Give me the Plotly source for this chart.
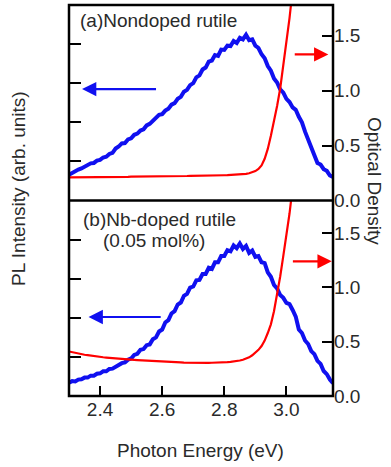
import plotly.graph_objects as go

# Photon energy grid (eV)
energy = [2.30, 2.31, 2.32, 2.33, 2.34, 2.35, 2.36, 2.37, 2.38, 2.39,
          2.40, 2.41, 2.42, 2.43, 2.44, 2.45, 2.46, 2.47, 2.48, 2.49,
          2.50, 2.51, 2.52, 2.53, 2.54, 2.55, 2.56, 2.57, 2.58, 2.59,
          2.60, 2.61, 2.62, 2.63, 2.64, 2.65, 2.66, 2.67, 2.68, 2.69,
          2.70, 2.71, 2.72, 2.73, 2.74, 2.75, 2.76, 2.77, 2.78, 2.79,
          2.80, 2.81, 2.82, 2.83, 2.84, 2.85, 2.86, 2.87, 2.88, 2.89,
          2.90, 2.91, 2.92, 2.93, 2.94, 2.95, 2.96, 2.97, 2.98, 2.99,
          3.00, 3.01, 3.02, 3.03, 3.04, 3.05, 3.06, 3.07, 3.08, 3.09,
          3.10, 3.11, 3.12, 3.13, 3.14, 3.15]

# (a) Nondoped rutile: PL intensity (arb. units)
pl_nondoped = [0.66, 0.71, 0.73, 0.79, 0.82, 0.87, 0.89, 0.95, 0.96, 1.02,
               1.04, 1.10, 1.12, 1.19, 1.22, 1.33, 1.38, 1.46, 1.47, 1.56,
               1.59, 1.68, 1.71, 1.79, 1.82, 1.92, 1.96, 2.04, 2.09, 2.19,
               2.21, 2.30, 2.35, 2.45, 2.49, 2.60, 2.65, 2.78, 2.83, 2.95,
               3.00, 3.15, 3.20, 3.35, 3.40, 3.55, 3.58, 3.72, 3.70, 3.86,
               3.85, 3.96, 3.95, 4.08, 4.03, 4.16, 4.12, 4.24, 4.10, 4.12,
               3.96, 3.90, 3.74, 3.64, 3.44, 3.32, 3.12, 3.02, 2.84, 2.76,
               2.60, 2.52, 2.38, 2.32, 2.14, 2.00, 1.76, 1.58, 1.34, 1.16,
               0.96, 0.92, 0.80, 0.76, 0.64, 0.60]

# (a) Nondoped rutile: optical density
od_nondoped = [0.210, 0.210, 0.210, 0.211, 0.211, 0.212, 0.212, 0.212, 0.213, 0.213,
               0.213, 0.214, 0.214, 0.214, 0.215, 0.215, 0.215, 0.216, 0.216, 0.216,
               0.217, 0.217, 0.217, 0.218, 0.218, 0.218, 0.219, 0.219, 0.219, 0.220,
               0.220, 0.220, 0.221, 0.221, 0.222, 0.222, 0.222, 0.223, 0.223, 0.224,
               0.224, 0.225, 0.225, 0.226, 0.226, 0.227, 0.227, 0.228, 0.229, 0.229,
               0.230, 0.231, 0.232, 0.233, 0.235, 0.237, 0.240, 0.243, 0.248, 0.256,
               0.268, 0.287, 0.320, 0.380, 0.470, 0.590, 0.720, 0.860, 1.020, 1.220,
               1.420, 1.660, 1.920, 2.200, 2.500, 2.800, 3.100, 3.400, 3.700, 4.000,
               4.300, 4.600, 4.900, 5.200, 5.500, 5.800]

# (b) Nb-doped rutile (0.05 mol%): PL intensity (arb. units)
pl_nbdoped = [0.34, 0.38, 0.37, 0.42, 0.43, 0.47, 0.47, 0.52, 0.52, 0.57,
              0.58, 0.63, 0.63, 0.69, 0.70, 0.75, 0.77, 0.84, 0.86, 0.93,
              0.96, 1.05, 1.08, 1.18, 1.20, 1.30, 1.32, 1.45, 1.50, 1.65,
              1.70, 1.88, 1.94, 2.11, 2.17, 2.34, 2.39, 2.56, 2.61, 2.77,
              2.80, 2.96, 2.97, 3.12, 3.12, 3.28, 3.25, 3.42, 3.42, 3.58,
              3.58, 3.73, 3.70, 3.85, 3.78, 3.90, 3.76, 3.84, 3.66, 3.72,
              3.56, 3.58, 3.42, 3.40, 3.16, 3.05, 2.84, 2.75, 2.58, 2.51,
              2.38, 2.35, 2.20, 2.03, 1.70, 1.61, 1.42, 1.33, 1.15, 1.07,
              0.90, 0.82, 0.64, 0.56, 0.42, 0.33]

# (b) Nb-doped rutile: optical density
od_nbdoped = [0.410, 0.403, 0.397, 0.391, 0.386, 0.380, 0.376, 0.371, 0.367, 0.363,
              0.360, 0.357, 0.354, 0.351, 0.348, 0.345, 0.343, 0.341, 0.339, 0.337,
              0.335, 0.333, 0.331, 0.329, 0.327, 0.325, 0.323, 0.321, 0.319, 0.317,
              0.315, 0.314, 0.313, 0.312, 0.311, 0.310, 0.309, 0.308, 0.307, 0.306,
              0.305, 0.305, 0.305, 0.305, 0.305, 0.305, 0.306, 0.306, 0.307, 0.308,
              0.310, 0.312, 0.314, 0.317, 0.321, 0.327, 0.334, 0.343, 0.356, 0.375,
              0.398, 0.425, 0.460, 0.510, 0.580, 0.660, 0.780, 0.930, 1.100, 1.290,
              1.470, 1.680, 1.920, 2.200, 2.500, 2.800, 3.100, 3.400, 3.700, 4.000,
              4.300, 4.600, 4.900, 5.200, 5.500, 5.800]

x_ticks = [2.4, 2.6, 2.8, 3.0]
x_ticklabels = ["2.4", "2.6", "2.8", "3.0"]
od_ticks = [0.0, 0.5, 1.0, 1.5]
od_ticklabels = ["0.0", "0.5", "1.0", "1.5"]
pl_ticks = [1, 2, 3, 4]

BLUE = "#1010f0"
RED = "#ff0000"
FONT = "Liberation Sans, Arial, Helvetica, sans-serif"
TXT = "#2a2a2a"
FS = 19

fig = go.Figure()
fig.add_trace(go.Scatter(x=energy, y=od_nondoped, xaxis="x", yaxis="y2", mode="lines",
                         line=dict(color=RED, width=2.2), showlegend=False))
fig.add_trace(go.Scatter(x=energy, y=pl_nondoped, xaxis="x", yaxis="y", mode="lines",
                         line=dict(color=BLUE, width=4), showlegend=False))
fig.add_trace(go.Scatter(x=energy, y=od_nbdoped, xaxis="x", yaxis="y4", mode="lines",
                         line=dict(color=RED, width=2.2), showlegend=False))
fig.add_trace(go.Scatter(x=energy, y=pl_nbdoped, xaxis="x", yaxis="y3", mode="lines",
                         line=dict(color=BLUE, width=4), showlegend=False))

tickfont = dict(family=FONT, size=FS, color=TXT)
left_common = dict(range=[0, 5], tickvals=pl_ticks, showticklabels=False, ticks="inside",
                   ticklen=12, tickwidth=2, tickcolor="black", showgrid=False,
                   zeroline=False, showline=False, anchor="x")
right_common = dict(tickvals=od_ticks, ticktext=od_ticklabels, ticks="inside", ticklen=11,
                    tickwidth=2, tickcolor="black", showgrid=False, zeroline=False,
                    showline=False, side="right", anchor="x", tickfont=tickfont)

fig.update_layout(
    width=391, height=467,
    margin=dict(l=69, r=58, t=5, b=71),
    paper_bgcolor="white", plot_bgcolor="white",
    font=dict(family=FONT, size=FS, color=TXT),
    xaxis=dict(range=[2.3, 3.15], tickvals=x_ticks, ticktext=x_ticklabels, ticks="inside",
               ticklen=10, tickwidth=2, tickcolor="black", showgrid=False, zeroline=False,
               showline=False, anchor="y3", tickfont=tickfont),
    yaxis=dict(domain=[0.5, 1.0], **left_common),
    yaxis2=dict(domain=[0.5, 1.0], range=[0, 1.78], overlaying="y", **right_common),
    yaxis3=dict(domain=[0.0, 0.5], **left_common),
    yaxis4=dict(domain=[0.0, 0.5], range=[0, 1.8], overlaying="y3", **right_common),
)

# frame and divider
fig.add_shape(type="rect", xref="paper", yref="paper", x0=0, x1=1, y0=0, y1=1,
              line=dict(color="black", width=2.5), layer="above")
fig.add_shape(type="line", xref="paper", yref="paper", x0=0, x1=1, y0=0.5, y1=0.5,
              line=dict(color="black", width=2.5), layer="above")

def arrow(x_head, x_tail, y, yref, color):
    fig.add_annotation(x=x_head, y=y, ax=x_tail, ay=y, xref="x", yref=yref,
                       axref="x", ayref=yref, text="", showarrow=True,
                       arrowhead=2, arrowsize=1.3, arrowwidth=2.2, arrowcolor=color)

arrow(2.342, 2.585, 2.85, "y", BLUE)
arrow(3.135, 3.022, 1.33, "y2", RED)
arrow(2.363, 2.600, 2.02, "y3", BLUE)
arrow(3.146, 3.016, 1.24, "y4", RED)

def ptext(text, px, py, xanchor="left", angle=0):
    fig.add_annotation(x=(px - 69) / 264, y=(396 - py) / 391, xref="paper", yref="paper",
                       text=text, showarrow=False, xanchor=xanchor, yanchor="middle",
                       textangle=angle, font=dict(family=FONT, size=FS, color=TXT))

ptext("(a)Nondoped rutile", 78, 20)
ptext("(b)Nb-doped rutile", 81, 219)
ptext("(0.05 mol%)", 101, 241)
ptext("Photon Energy (eV)", 200, 450, xanchor="center")
ptext("PL Intensity (arb. units)", 18, 189, xanchor="center", angle=-90)
ptext("Optical Density", 375, 181, xanchor="center", angle=90)

fig.write_html("out.html",
               config={"displayModeBar": False},
               post_script="document.body.style.margin='0';document.body.style.overflow='hidden';")
